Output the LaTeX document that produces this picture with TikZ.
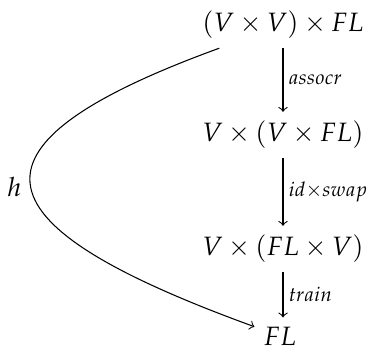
\documentclass[tikz,border=0pt]{standalone}
\usepackage{amsmath}
\usepackage{mathpazo}
\tikzset{lbl/.style={right, inner sep=2pt}}
\begin{document}
\begin{tikzpicture}[x=0.377pt, y=-0.377pt, >=to]
        \useasboundingbox (0,0) rectangle (371,358);
        % Below nodes are the objects.
            \node (top) at (283,25) {$(V \times V) \times FL$};
            \node (mid) at (283,135) {$V \times (V \times FL)$};
            \node (low) at (283,249) {$V \times (FL \times V)$};
            \node (fl) at (280,336) {$FL$};
        % These draw the vertical arrows.
            \draw[->] (top) -- node[lbl] {$\scriptstyle assocr$} (mid);
            \draw[->] (mid) -- node[lbl] {$\scriptstyle id \times swap$} (low);
            \draw[->] (low) -- node[lbl] {$\scriptstyle train$} (low |- fl.north);
        % This draws the curved arrow h.
            \draw[->] (top) to[out=200, in=160, looseness=2.66] node[left] {$h$} (fl);
    \end{tikzpicture}
\end{document}
